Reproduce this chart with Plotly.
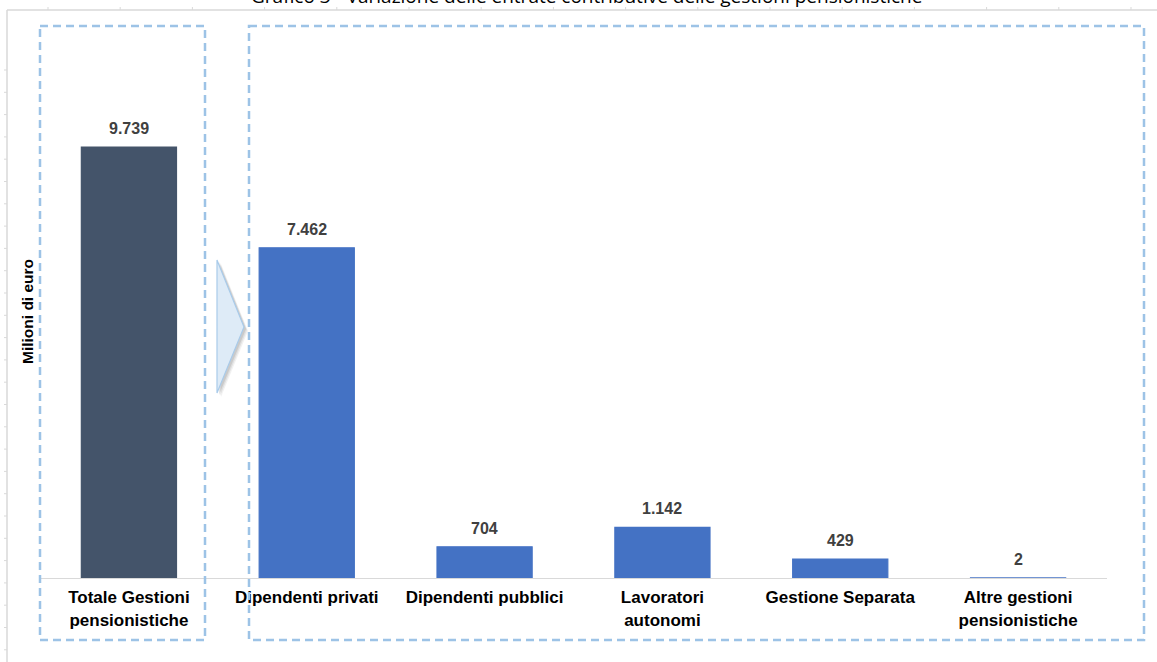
import plotly.graph_objects as go

# Contributions by pension scheme (million euro)
categories = [
    "Totale Gestioni<br>pensionistiche",
    "Dipendenti privati",
    "Dipendenti pubblici",
    "Lavoratori<br>autonomi",
    "Gestione Separata",
    "Altre gestioni<br>pensionistiche",
]
values = [9739, 7462, 704, 1142, 429, 2]
bar_colors = ["#44546A", "#4472C4", "#4472C4", "#4472C4", "#4472C4", "#4472C4"]

title_text = "Grafico 3 - Variazione delle entrate contributive delle gestioni pensionistiche"
y_title = "Milioni di euro"

W, H = 1157, 662
L, R, T, B = 40, 50, 100, 84
PW, PH = W - L - R, H - T - B
Y_MAX = 10802


def px(x):
    return (x - L) / PW


def py(y):
    return (H - B - y) / PH


fig = go.Figure()
fig.add_trace(go.Bar(
    x=categories,
    y=values,
    width=0.535,
    marker=dict(color=bar_colors, line=dict(color=bar_colors, width=1.2)),
    hoverinfo="skip",
))

# value labels above each bar
for c, v in zip(categories, values):
    fig.add_annotation(
        x=c, y=v, xref="x", yref="y",
        text=f"{v:,}".replace(",", "."),
        showarrow=False, yanchor="bottom", yshift=8,
        font=dict(family="Liberation Sans, Arial", size=16, color="#404040", weight="bold"),
    )

shapes = []
# sheet frame lines and ruler marks
frame = "#D9D9D9"
shapes.append(dict(type="line", xref="paper", yref="paper", x0=px(7), x1=px(W), y0=py(10), y1=py(10),
                   line=dict(color=frame, width=1.5)))
shapes.append(dict(type="line", xref="paper", yref="paper", x0=px(7), x1=px(7), y0=py(10), y1=py(H),
                   line=dict(color=frame, width=1.5)))
xt = 48.0
while xt < W:
    shapes.append(dict(type="line", xref="paper", yref="paper", x0=px(xt), x1=px(xt), y0=py(7), y1=py(10),
                       line=dict(color=frame, width=1)))
    xt += 72.2
yt = 70.0
while yt < H:
    shapes.append(dict(type="line", xref="paper", yref="paper", x0=px(4), x1=px(7), y0=py(yt), y1=py(yt),
                       line=dict(color=frame, width=1)))
    yt += 22.3

# dashed group boxes
box_line = dict(color="#9DC3E6", width=2.5, dash="8px,5px")
shapes.append(dict(type="rect", xref="paper", yref="paper", x0=px(40), x1=px(205), y0=py(26), y1=py(640),
                   line=box_line, fillcolor="rgba(0,0,0,0)"))
shapes.append(dict(type="rect", xref="paper", yref="paper", x0=px(249), x1=px(1144), y0=py(26), y1=py(640),
                   line=box_line, fillcolor="rgba(0,0,0,0)"))


def tri(x0, ytop, xtip, ytip, ybot, dx=0, dy=0):
    return (f"M {px(x0 + dx)} {py(ytop + dy)} L {px(xtip + dx)} {py(ytip + dy)} "
            f"L {px(x0 + dx)} {py(ybot + dy)} Z")


# chevron with soft shadow
for d, op in [(4, 0.10), (3, 0.15), (2, 0.2)]:
    shapes.append(dict(type="path", xref="paper", yref="paper", path=tri(217, 260, 244, 327, 393, d, d),
                       fillcolor=f"rgba(120,120,120,{op})", line=dict(width=0)))
shapes.append(dict(type="path", xref="paper", yref="paper", path=tri(217, 260, 244, 327, 393),
                   fillcolor="#DEEBF7", line=dict(color="#A9CBEA", width=1.2)))

fig.update_layout(shapes=shapes)

# heading (runs off the top edge of the sheet) and axis title
fig.add_annotation(
    xref="paper", yref="paper", x=px(586), y=py(11), text=title_text, showarrow=False,
    xanchor="center", yanchor="bottom",
    font=dict(family="Open Sans", size=19, color="#000000"),
)
fig.add_annotation(
    xref="paper", yref="paper", x=px(27), y=py(312), text=y_title, showarrow=False,
    textangle=-90, xanchor="center", yanchor="middle",
    font=dict(family="Liberation Sans, Arial", size=15.5, color="#000000", weight="bold"),
)

fig.update_layout(
    width=W, height=H,
    margin=dict(l=L, r=R, t=T, b=B),
    paper_bgcolor="white", plot_bgcolor="white",
    showlegend=False,
    xaxis=dict(
        showline=True, linecolor="#D9D9D9", linewidth=1, showgrid=False, zeroline=False,
        layer="below traces",
        ticks="", ticklabelstandoff=4,
        tickfont=dict(family="Liberation Sans, Arial", size=17, color="#000000", weight="bold"),
        range=[-0.5, 5.5],
    ),
    yaxis=dict(range=[0, Y_MAX], visible=False, showgrid=False, zeroline=False),
)

fig.write_html("out.html")
